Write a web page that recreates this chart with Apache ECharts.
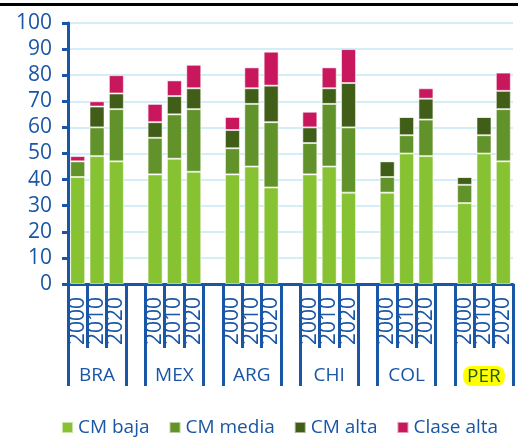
<!DOCTYPE html>
<html>
<head>
<meta charset="utf-8">
<script src="https://cdn.jsdelivr.net/npm/echarts@6/dist/echarts.min.js"></script>
<style>
  html, body { margin: 0; padding: 0; background: #fff; }
  #topLine { position: absolute; left: 0; top: 3px; width: 518px; height: 3px; background: #000; }
  #mainChart { width: 518px; height: 441px; }
</style>
</head>
<body>
<div id="topLine"></div>
<div id="mainChart"></div>
<script>
var blue = '#1a56a6';
var font = 'Open Sans';

// one slot per bar, empty slot between countries
var years = ['2000', '2010', '2020', '',
             '2000', '2010', '2020', '',
             '2000', '2010', '2020', '',
             '2000', '2010', '2020', '',
             '2000', '2010', '2020', '',
             '2000', '2010', '2020'];
var countries = ['', 'BRA', '', '',
                 '', 'MEX', '', '',
                 '', 'ARG', '', '',
                 '', 'CHI', '', '',
                 '', 'COL', '', '',
                 '', 'PER', ''];

var cmBaja   = [41, 49, 47, '-', 42, 48, 43, '-', 42, 45, 37, '-', 42, 45, 35, '-', 35, 50, 49, '-', 31, 50, 47];
var cmMedia  = [6, 11, 20, '-', 14, 17, 24, '-', 10, 24, 25, '-', 12, 24, 25, '-', 6, 7, 14, '-', 7, 7, 20];
var cmAlta   = [0, 8, 6, '-', 6, 7, 8, '-', 7, 6, 14, '-', 6, 6, 17, '-', 6, 7, 8, '-', 3, 7, 7];
var claseAlta = [2, 2, 7, '-', 7, 6, 9, '-', 5, 8, 13, '-', 6, 8, 13, '-', 0, 0, 4, '-', 0, 0, 7];

var seriesNames = ['CM baja', 'CM media', 'CM alta', 'Clase alta'];
var seriesColors = ['#86c232', '#62922a', '#415e19', '#c8175c'];
var seriesData = [cmBaja, cmMedia, cmAlta, claseAlta];

// group boundaries for the long ticks
var groupEdges = [0, 3, 4, 7, 8, 11, 12, 15, 16, 19, 20];

var series = [];
for (var i = 0; i < seriesData.length; i++) {
    series.push({
        name: seriesNames[i],
        type: 'bar',
        stack: 'total',
        barWidth: 15,
        data: seriesData[i],
        itemStyle: {
            color: seriesColors[i],
            borderColor: 'rgba(255,255,255,0.55)',
            borderWidth: 1
        }
    });
}

var myChart = echarts.init(document.getElementById('mainChart'));

var option = {
    animation: false,
    textStyle: { fontFamily: font },
    grid: { left: 68, right: 5, top: 23, bottom: 157 },
    legend: {
        data: seriesNames,
        left: 56,
        top: 413,
        icon: 'rect',
        itemWidth: 11,
        itemHeight: 11,
        itemGap: 19,
        textStyle: { color: blue, fontSize: 19, fontFamily: font }
    },
    xAxis: [{
        type: 'category',
        data: years,
        position: 'bottom',
        axisLine: { lineStyle: { color: blue, width: 3 } },
        axisTick: { show: true, interval: 0, length: 64, lineStyle: { color: blue, width: 3 } },
        axisLabel: {
            interval: 0,
            rotate: 90,
            margin: 13,
            color: blue,
            fontSize: 21,
            fontWeight: 500,
            fontFamily: font
        }
    }, {
        type: 'category',
        data: countries,
        position: 'bottom',
        axisLine: { show: false },
        axisTick: {
            show: true,
            length: 102,
            interval: function (index) { return groupEdges.indexOf(index) > -1; },
            lineStyle: { color: blue, width: 3 }
        },
        axisLabel: {
            interval: 0,
            margin: 82,
            color: blue,
            fontSize: 19,
            fontFamily: font,
            formatter: function (value) {
                return value == 'PER' ? '{hl|' + value + '}' : value;
            },
            rich: {
                hl: {
                    color: '#235a14',
                    fontSize: 19,
                    fontFamily: font,
                    backgroundColor: '#ffff00',
                    borderRadius: 8,
                    padding: [1, 4, 0, 4]
                }
            }
        }
    }],
    yAxis: {
        type: 'value',
        min: 0,
        max: 100,
        interval: 10,
        axisLine: { show: true, lineStyle: { color: blue, width: 3 } },
        axisTick: { show: true, length: 6, lineStyle: { color: blue, width: 3 } },
        axisLabel: { color: blue, fontSize: 21, margin: 16, fontFamily: font },
        splitLine: { lineStyle: { color: '#c6e8f4', width: 1.5 } }
    },
    series: series
};

myChart.setOption(option);
</script>
</body>
</html>
